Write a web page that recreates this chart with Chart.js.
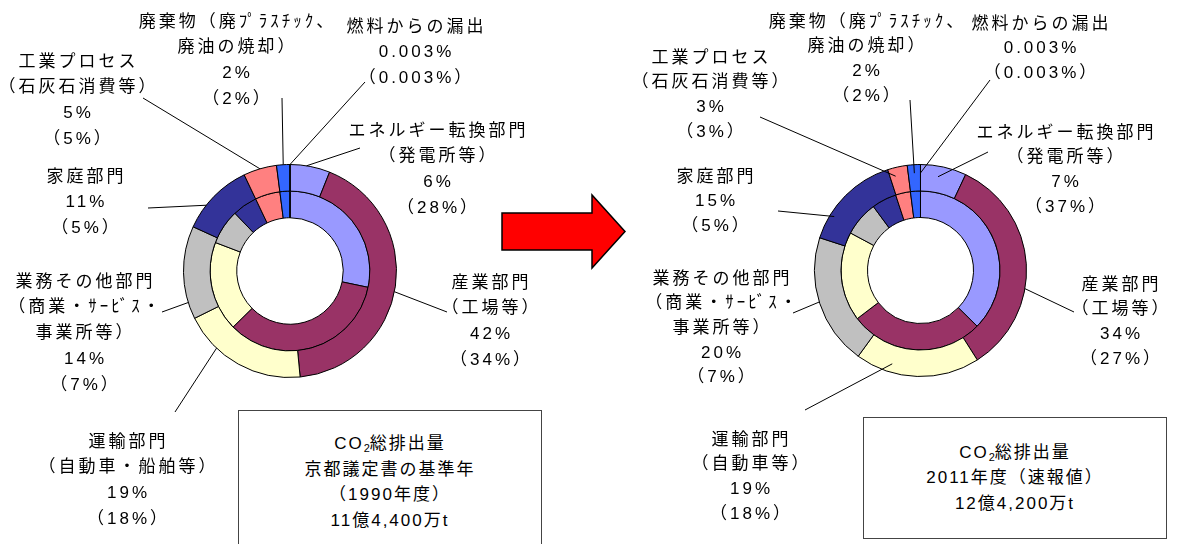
<!DOCTYPE html>
<html>
  <head>
    <title>CO2 sectors</title>
    <meta charset="UTF-8" />
    <style>
      body { margin: 0; background: #fff; }
      #wrap { position: relative; width: 1178px; height: 544px; overflow: hidden; }
      .layer { position: absolute; left: 0; top: 0; width: 1178px; height: 544px; }
      .box {
        position: absolute; border: 1px solid #444; background: #fff;
        display: flex; flex-direction: column; justify-content: center; align-items: center;
        font: 17px "Liberation Sans", "Noto Sans CJK JP", sans-serif; letter-spacing: 2px;
        line-height: 25.5px; color: #000;
      }
      .box sub { font-size: 11px; vertical-align: -3px; line-height: 0; letter-spacing: 0; }
    </style>
  </head>

  <body>
    <div id="wrap">
      <div class="layer"><canvas id="chart1990"></canvas></div>
      <div class="layer"><canvas id="chart2011"></canvas></div>
      <svg class="layer" width="1178" height="544">
        <polygon points="502,213 592,213 592,195 625,231.5 592,268 592,250 502,250"
                 fill="#ff0000" stroke="#000" stroke-width="1.5" />
      </svg>
      <div class="box" id="box1990" style="left:238px;top:410px;width:302px;height:142px"></div>
      <div class="box" id="box2011" style="left:863px;top:417px;width:302px;height:120px"></div>
    </div>

<script src="https://cdn.jsdelivr.net/npm/chart.js@4"></script>
<script>
// sectors, clockwise from 12 o'clock
var names1990 = [
  ['エネルギー転換部門', '（発電所等）'],
  ['産業部門', '（工場等）'],
  ['運輸部門', '（自動車・船舶等）'],
  ['業務その他部門', '（商業・ｻｰﾋﾞｽ・', '事業所等）'],
  ['家庭部門'],
  ['工業プロセス', '（石灰石消費等）'],
  ['廃棄物（廃ﾌﾟﾗｽﾁｯｸ、', '廃油の焼却）'],
  ['燃料からの漏出']
];
var names2011 = [
  ['エネルギー転換部門', '（発電所等）'],
  ['産業部門', '（工場等）'],
  ['運輸部門', '（自動車等）'],
  ['業務その他部門', '（商業・ｻｰﾋﾞｽ・', '事業所等）'],
  ['家庭部門'],
  ['工業プロセス', '（石灰石消費等）'],
  ['廃棄物（廃ﾌﾟﾗｽﾁｯｸ、', '廃油の焼却）'],
  ['燃料からの漏出']
];

// outer ring = first %, inner ring = % in brackets
var outer1990 = [6, 42, 19, 14, 11, 5, 2, 0.003];
var inner1990 = [28, 34, 18, 7, 5, 5, 2, 0.003];
var outer2011 = [7, 34, 19, 20, 15, 3, 2, 0.003];
var inner2011 = [37, 27, 18, 7, 5, 3, 2, 0.003];

var sectorColors = ['#9999ff', '#993366', '#ffffcc', '#c0c0c0', '#333399', '#ff8080', '#3366ff', '#000000'];

var box1990 = ['CO2総排出量', '京都議定書の基準年', '（1990年度）', '11億4,400万t'];
var box2011 = ['CO2総排出量', '2011年度（速報値）', '12億4,200万t'];

// callout placement: t = position along the outer arc, rf = radius factor,
// (ex,ey) = end of leader line, (cx,cy) = centre of first text line
var layout1990 = [
  {t: 0.41, rf: 1.0, ex: 360, ey: 148, cx: 437, cy: 131},
  {t: 0.52, rf: 1.0, ex: 447, ey: 312, cx: 490, cy: 283},
  {t: 0.71, rf: 1.0, ex: 175, ey: 412, cx: 127, cy: 442},
  {t: 0.18, rf: 1.0, ex: 162, ey: 312, cx: 84, cy: 282},
  {t: 0.34, rf: 1.0, ex: 148, ey: 208, cx: 85, cy: 177},
  {t: 0.5, rf: 1.0, ex: 143, ey: 98, cx: 77, cy: 62},
  {t: 0.5, rf: 1.0, ex: 282, ey: 98, cx: 236, cy: 22},
  {t: 0.5, rf: 1.0, ex: 365, ey: 82, cx: 415, cy: 27}
];
var layout2011 = [
  {t: 0.42, rf: 0.9, ex: 988, ey: 152, cx: 1065, cy: 133},
  {t: 0.61, rf: 1.0, ex: 1074, ey: 312, cx: 1120, cy: 285},
  {t: 0.72, rf: 0.92, ex: 805, ey: 410, cx: 750, cy: 440},
  {t: 0.51, rf: 1.0, ex: 793, ey: 313, cx: 721, cy: 279},
  {t: 0.26, rf: 0.96, ex: 778, ey: 211, cx: 715, cy: 177},
  {t: 0.3, rf: 0.92, ex: 760, ey: 117, cx: 710, cy: 58},
  {t: 0.5, rf: 0.92, ex: 910, ey: 100, cx: 866, cy: 22},
  {t: 0.5, rf: 0.92, ex: 990, ey: 80, cx: 1040, cy: 24}
];

var FONT = '17px "Liberation Sans", "Noto Sans CJK JP", sans-serif';

function makeCallouts(layout, names, outer, inner, lineH) {
  return {
    id: 'callouts',
    afterDraw: function(chart) {
      var ctx = chart.ctx;
      var meta = chart.getDatasetMeta(0);
      ctx.save();
      ctx.strokeStyle = '#000';
      ctx.lineWidth = 1;
      ctx.fillStyle = '#000';
      ctx.font = FONT;
      ctx.letterSpacing = '3px';
      ctx.textAlign = 'center';
      ctx.textBaseline = 'middle';
      layout.forEach(function(it, i) {
        var p = meta.data[i].getProps(['x', 'y', 'startAngle', 'endAngle', 'outerRadius']);
        var a = p.startAngle + it.t * (p.endAngle - p.startAngle);
        var r = p.outerRadius * it.rf;
        ctx.beginPath();
        ctx.moveTo(p.x + Math.cos(a) * r, p.y + Math.sin(a) * r);
        ctx.lineTo(it.ex, it.ey);
        ctx.stroke();
        var lines = names[i].concat([outer[i] + '%', '（' + inner[i] + '%）']);
        lines.forEach(function(s, k) {
          ctx.fillText(s, it.cx + 1.5, it.cy + k * lineH);
        });
      });
      ctx.restore();
    }
  };
}

function makeChart(id, outer, inner, names, layout, pad, lineH) {
  return new Chart(document.getElementById(id), {
    type: 'doughnut',
    data: {
      labels: names.map(function(n) { return n[0]; }),
      datasets: [
        {data: outer, backgroundColor: sectorColors, borderColor: '#000', borderWidth: 1},
        {data: inner, backgroundColor: sectorColors, borderColor: '#000', borderWidth: 1}
      ]
    },
    options: {
      responsive: true,
      maintainAspectRatio: false,
      animation: false,
      events: [],
      cutout: '50%',
      layout: {padding: pad},
      plugins: {legend: {display: false}, tooltip: {enabled: false}}
    },
    plugins: [makeCallouts(layout, names, outer, inner, lineH)]
  });
}

makeChart('chart1990', outer1990, inner1990, names1990, layout1990,
  {left: 183, top: 164, right: 781, bottom: 166}, 25.8);
makeChart('chart2011', outer2011, inner2011, names2011, layout2011,
  {left: 814, top: 164, right: 151, bottom: 167}, 24.7);

function fillBox(id, lines) {
  document.getElementById(id).innerHTML = lines.map(function(s) {
    return '<div>' + s.replace('CO2', 'CO<sub>2</sub>') + '</div>';
  }).join('');
}
fillBox('box1990', box1990);
fillBox('box2011', box2011);
</script>

</body>
</html>
